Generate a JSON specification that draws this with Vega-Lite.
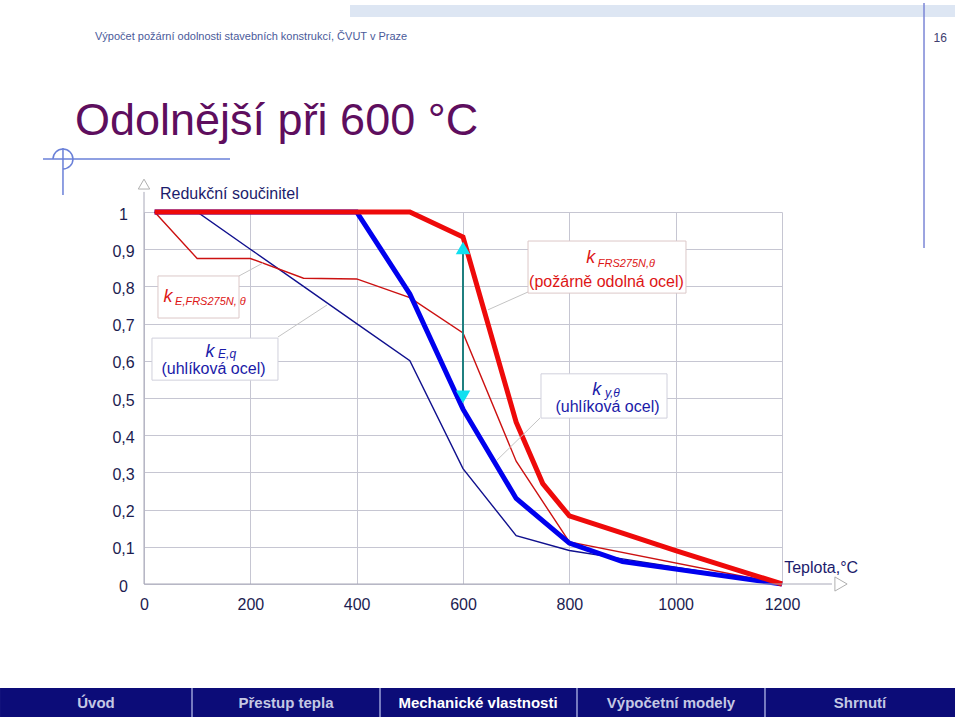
{
  "$schema": "https://vega.github.io/schema/vega-lite/v6.json",
  "width": 638,
  "height": 372,
  "autosize": {"type": "none"},
  "padding": {"left": 144, "top": 212, "right": 178, "bottom": 136},
  "background": "white",
  "config": {
    "view": {"stroke": null},
    "text": {"font": "Liberation Sans"},
    "axisX": {"grid": true, "gridColor": "#c6c6d2", "domain": false, "ticks": false, "labelFontSize": 16, "labelFont": "Liberation Sans", "labelColor": "#1c1c50", "labelPadding": 12, "labelFlush": false, "labelOverlap": false, "labelExpr": "format(datum.value, 'd')", "tickCount": 12},
    "axisY": {"grid": true, "gridColor": "#c6c6d2", "domain": false, "ticks": false, "labelFontSize": 16, "labelFont": "Liberation Sans", "labelColor": "#1c1c50", "labelAlign": "center", "labelPadding": 21, "labelOffset": 2, "labelOverlap": false, "labelExpr": "replace(format(datum.value, '~g'), '.', ',')", "tickCount": 11}
  },
  "data": {"values": [{}]},
  "datasets": {
    "curves": [
      {"series": "kE", "T": 20, "k": 1}, {"series": "kE", "T": 100, "k": 1}, {"series": "kE", "T": 200, "k": 0.9}, {"series": "kE", "T": 300, "k": 0.8}, {"series": "kE", "T": 400, "k": 0.7}, {"series": "kE", "T": 500, "k": 0.6}, {"series": "kE", "T": 600, "k": 0.31}, {"series": "kE", "T": 700, "k": 0.13}, {"series": "kE", "T": 800, "k": 0.09}, {"series": "kE", "T": 900, "k": 0.0675}, {"series": "kE", "T": 1000, "k": 0.045}, {"series": "kE", "T": 1100, "k": 0.0225}, {"series": "kE", "T": 1200, "k": 0},
      {"series": "kEFRS", "T": 20, "k": 1}, {"series": "kEFRS", "T": 100, "k": 0.875}, {"series": "kEFRS", "T": 200, "k": 0.875}, {"series": "kEFRS", "T": 300, "k": 0.822}, {"series": "kEFRS", "T": 400, "k": 0.82}, {"series": "kEFRS", "T": 500, "k": 0.77}, {"series": "kEFRS", "T": 600, "k": 0.675}, {"series": "kEFRS", "T": 700, "k": 0.33}, {"series": "kEFRS", "T": 800, "k": 0.113}, {"series": "kEFRS", "T": 1200, "k": 0},
      {"series": "ky", "T": 20, "k": 1}, {"series": "ky", "T": 400, "k": 1}, {"series": "ky", "T": 500, "k": 0.78}, {"series": "ky", "T": 600, "k": 0.47}, {"series": "ky", "T": 700, "k": 0.23}, {"series": "ky", "T": 800, "k": 0.11}, {"series": "ky", "T": 900, "k": 0.06}, {"series": "ky", "T": 1000, "k": 0.04}, {"series": "ky", "T": 1100, "k": 0.02}, {"series": "ky", "T": 1200, "k": 0},
      {"series": "kFRS", "T": 20, "k": 1}, {"series": "kFRS", "T": 500, "k": 1}, {"series": "kFRS", "T": 600, "k": 0.933}, {"series": "kFRS", "T": 700, "k": 0.435}, {"series": "kFRS", "T": 750, "k": 0.27}, {"series": "kFRS", "T": 800, "k": 0.183}, {"series": "kFRS", "T": 900, "k": 0.137}, {"series": "kFRS", "T": 1000, "k": 0.09}, {"series": "kFRS", "T": 1100, "k": 0.045}, {"series": "kFRS", "T": 1200, "k": 0}
    ]
  },
  "layer": [
    {
      "data": {"name": "curves"},
      "transform": [{"filter": "datum.series === 'kE'"}],
      "mark": {"type": "line", "color": "#10108e", "strokeWidth": 1.4},
      "encoding": {
        "x": {"field": "T", "type": "quantitative", "scale": {"domain": [0, 1200], "nice": false, "zero": false}, "axis": {"values": [0, 200, 400, 600, 800, 1000, 1200], "title": null}},
        "y": {"field": "k", "type": "quantitative", "scale": {"domain": [0, 1], "nice": false}, "axis": {"values": [0, 0.1, 0.2, 0.3, 0.4, 0.5, 0.6, 0.7, 0.8, 0.9, 1], "title": null}}
      }
    },
    {
      "data": {"name": "curves"},
      "transform": [{"filter": "datum.series === 'kEFRS'"}],
      "mark": {"type": "line", "color": "#cc1111", "strokeWidth": 1.4},
      "encoding": {"x": {"field": "T", "type": "quantitative", "axis": {"values": [0, 200, 400, 600, 800, 1000, 1200], "title": null}}, "y": {"field": "k", "type": "quantitative", "axis": {"values": [0, 0.1, 0.2, 0.3, 0.4, 0.5, 0.6, 0.7, 0.8, 0.9, 1], "title": null}}}
    },
    {
      "data": {"name": "curves"},
      "transform": [{"filter": "datum.series === 'ky'"}],
      "mark": {"type": "line", "color": "#0000ee", "strokeWidth": 5},
      "encoding": {"x": {"field": "T", "type": "quantitative", "axis": {"values": [0, 200, 400, 600, 800, 1000, 1200], "title": null}}, "y": {"field": "k", "type": "quantitative", "axis": {"values": [0, 0.1, 0.2, 0.3, 0.4, 0.5, 0.6, 0.7, 0.8, 0.9, 1], "title": null}}}
    },
    {
      "data": {"name": "curves"},
      "transform": [{"filter": "datum.series === 'kFRS'"}],
      "mark": {"type": "line", "color": "#ee0a0a", "strokeWidth": 5},
      "encoding": {"x": {"field": "T", "type": "quantitative", "axis": {"values": [0, 200, 400, 600, 800, 1000, 1200], "title": null}}, "y": {"field": "k", "type": "quantitative", "axis": {"values": [0, 0.1, 0.2, 0.3, 0.4, 0.5, 0.6, 0.7, 0.8, 0.9, 1], "title": null}}}
    },
    {"mark": {"type": "rule", "color": "#a8a8b8", "strokeWidth": 1}, "encoding": {"x": {"datum": 0}, "y": {"datum": 0}, "y2": {"datum": 1.054}}},
    {"mark": {"type": "rule", "color": "#a8a8b8", "strokeWidth": 1}, "encoding": {"x": {"datum": 0}, "x2": {"datum": 1294}, "y": {"datum": 0}}},
    {"mark": {"type": "point", "shape": "triangle-up", "size": 130, "filled": false, "stroke": "#b0b0b0", "fill": "white", "strokeWidth": 1, "opacity": 1}, "encoding": {"x": {"datum": 0}, "y": {"datum": 1.075}}},
    {"mark": {"type": "point", "shape": "triangle-right", "size": 200, "filled": false, "stroke": "#b0b0b0", "fill": "white", "strokeWidth": 1, "opacity": 1}, "encoding": {"x": {"datum": 1311}, "y": {"datum": 0}}},
    {"mark": {"type": "text", "text": "Redukční součinitel", "align": "left", "baseline": "alphabetic", "fontSize": 16, "color": "#1c1c6c"}, "encoding": {"x": {"datum": 30}, "y": {"datum": 1.034}}},
    {"mark": {"type": "text", "text": "Teplota,°C", "align": "left", "baseline": "alphabetic", "fontSize": 16, "color": "#1c1c6c"}, "encoding": {"x": {"datum": 1204}, "y": {"datum": 0.0296}}},
    {"mark": {"type": "rule", "color": "#1f7f7f", "strokeWidth": 2}, "encoding": {"x": {"datum": 600}, "y": {"datum": 0.9}, "y2": {"datum": 0.505}}},
    {"mark": {"type": "point", "shape": "triangle-up", "size": 210, "filled": true, "color": "#10e0f0", "opacity": 1}, "encoding": {"x": {"datum": 600}, "y": {"datum": 0.903}}},
    {"mark": {"type": "point", "shape": "triangle-down", "size": 210, "filled": true, "color": "#10e0f0", "opacity": 1}, "encoding": {"x": {"datum": 600}, "y": {"datum": 0.503}}},
    {"mark": {"type": "rule", "color": "#c4c4c4", "strokeWidth": 1}, "encoding": {"x": {"datum": 178.7}, "y": {"datum": 0.828}, "x2": {"datum": 223.8}, "y2": {"datum": 0.863}}},
    {"mark": {"type": "rule", "color": "#c4c4c4", "strokeWidth": 1}, "encoding": {"x": {"datum": 252}, "y": {"datum": 0.664}, "x2": {"datum": 344.2}, "y2": {"datum": 0.75}}},
    {"mark": {"type": "rule", "color": "#c4c4c4", "strokeWidth": 1}, "encoding": {"x": {"datum": 722.3}, "y": {"datum": 0.785}, "x2": {"datum": 647}, "y2": {"datum": 0.737}}},
    {"mark": {"type": "rule", "color": "#c4c4c4", "strokeWidth": 1}, "encoding": {"x": {"datum": 744.8}, "y": {"datum": 0.446}, "x2": {"datum": 664}, "y2": {"datum": 0.333}}},
    {"mark": {"type": "rect", "fill": "white", "stroke": "#dcc8c8", "strokeWidth": 1}, "encoding": {"x": {"datum": 26.3}, "x2": {"datum": 178.7}, "y": {"datum": 0.828}, "y2": {"datum": 0.715}}},
    {"mark": {"type": "rect", "fill": "white", "stroke": "#d0d0dc", "strokeWidth": 1}, "encoding": {"x": {"datum": 15}, "x2": {"datum": 252}, "y": {"datum": 0.661}, "y2": {"datum": 0.548}}},
    {"mark": {"type": "rect", "fill": "white", "stroke": "#dcc8c8", "strokeWidth": 1}, "encoding": {"x": {"datum": 722.3}, "x2": {"datum": 1019.4}, "y": {"datum": 0.922}, "y2": {"datum": 0.782}}},
    {"mark": {"type": "rect", "fill": "white", "stroke": "#d0d0dc", "strokeWidth": 1}, "encoding": {"x": {"datum": 746.7}, "x2": {"datum": 983.7}, "y": {"datum": 0.565}, "y2": {"datum": 0.446}}},
    {"mark": {"type": "text", "text": "k", "align": "left", "baseline": "alphabetic", "fontSize": 18, "fontStyle": "italic", "color": "#dd1515"}, "encoding": {"x": {"datum": 36.6}, "y": {"datum": 0.758}}},
    {"mark": {"type": "text", "text": "E,FRS275N, θ", "align": "left", "baseline": "alphabetic", "fontSize": 11, "fontStyle": "italic", "color": "#dd1515"}, "encoding": {"x": {"datum": 58.4}, "y": {"datum": 0.75}}},
    {"mark": {"type": "text", "text": "k", "align": "left", "baseline": "alphabetic", "fontSize": 18, "fontStyle": "italic", "color": "#1a1aa8"}, "encoding": {"x": {"datum": 115.6}, "y": {"datum": 0.611}}},
    {"mark": {"type": "text", "text": "E,q", "align": "left", "baseline": "alphabetic", "fontSize": 12, "fontStyle": "italic", "color": "#1a1aa8"}, "encoding": {"x": {"datum": 139.3}, "y": {"datum": 0.607}}},
    {"mark": {"type": "text", "text": "(uhlíková ocel)", "align": "center", "baseline": "alphabetic", "fontSize": 16, "color": "#1a1aa8"}, "encoding": {"x": {"datum": 130.7}, "y": {"datum": 0.5645}}},
    {"mark": {"type": "text", "text": "k", "align": "left", "baseline": "alphabetic", "fontSize": 18, "fontStyle": "italic", "color": "#dd1515"}, "encoding": {"x": {"datum": 831.6}, "y": {"datum": 0.862}}},
    {"mark": {"type": "text", "text": "FRS275N,θ", "align": "left", "baseline": "alphabetic", "fontSize": 11, "fontStyle": "italic", "color": "#dd1515"}, "encoding": {"x": {"datum": 853.4}, "y": {"datum": 0.851}}},
    {"mark": {"type": "text", "text": "(požárně odolná ocel)", "align": "center", "baseline": "alphabetic", "fontSize": 16, "color": "#dd1515"}, "encoding": {"x": {"datum": 869.9}, "y": {"datum": 0.799}}},
    {"mark": {"type": "text", "text": "k", "align": "left", "baseline": "alphabetic", "fontSize": 18, "fontStyle": "italic", "color": "#1a1aa8"}, "encoding": {"x": {"datum": 843.1}, "y": {"datum": 0.508}}},
    {"mark": {"type": "text", "text": "y,θ", "align": "left", "baseline": "alphabetic", "fontSize": 12, "fontStyle": "italic", "color": "#1a1aa8"}, "encoding": {"x": {"datum": 866.9}, "y": {"datum": 0.503}}},
    {"mark": {"type": "text", "text": "(uhlíková ocel)", "align": "center", "baseline": "alphabetic", "fontSize": 16, "color": "#1a1aa8"}, "encoding": {"x": {"datum": 871.8}, "y": {"datum": 0.462}}},
    {"mark": {"type": "rect", "fill": "#dde6f3"}, "encoding": {"x": {"datum": 387.5}, "x2": {"datum": 1525.4}, "y": {"datum": 1.5565}, "y2": {"datum": 1.5242}}},
    {"mark": {"type": "rule", "color": "#7b86d6", "strokeWidth": 1.5}, "encoding": {"x": {"datum": 1467.1}, "y": {"datum": 1.5618}, "y2": {"datum": 0.9032}}},
    {"mark": {"type": "text", "text": "Výpočet požární odolnosti stavebních konstrukcí, ČVUT v Praze", "align": "left", "baseline": "alphabetic", "fontSize": 11, "color": "#4a5a9a"}, "encoding": {"x": {"datum": -92.2}, "y": {"datum": 1.4637}}},
    {"mark": {"type": "text", "text": "16", "align": "right", "baseline": "alphabetic", "fontSize": 12, "color": "#404070"}, "encoding": {"x": {"datum": 1510.3}, "y": {"datum": 1.4583}}},
    {"mark": {"type": "text", "text": "Odolnější při 600 °C", "align": "left", "baseline": "alphabetic", "fontSize": 45, "color": "#5e0e5e"}, "encoding": {"x": {"datum": -129.8}, "y": {"datum": 1.207}}},
    {"mark": {"type": "rule", "color": "#6a80d8", "strokeWidth": 1.5}, "encoding": {"x": {"datum": -190}, "x2": {"datum": 161.8}, "y": {"datum": 1.1425}}},
    {"mark": {"type": "rule", "color": "#6a80d8", "strokeWidth": 1.5}, "encoding": {"x": {"datum": -152.4}, "y": {"datum": 1.172}, "y2": {"datum": 1.0457}}},
    {"mark": {"type": "arc", "radius": 10, "radius2": 10, "theta": -1.5708, "theta2": 3.1416, "fill": null, "stroke": "#6a80d8", "strokeWidth": 1.5}, "encoding": {"x": {"datum": -152.4}, "y": {"datum": 1.1425}}},
    {"mark": {"type": "rect", "fill": "#0c0c78"}, "encoding": {"x": {"datum": -270.8}, "x2": {"datum": 1525.4}, "y": {"datum": -0.2796}, "y2": {"datum": -0.3575}}},
    {"mark": {"type": "rule", "color": "#9aa0d8", "strokeWidth": 1.5}, "encoding": {"x": {"datum": 90.3}, "y": {"datum": -0.2796}, "y2": {"datum": -0.3575}}},
    {"mark": {"type": "rule", "color": "#9aa0d8", "strokeWidth": 1.5}, "encoding": {"x": {"datum": 443.9}, "y": {"datum": -0.2796}, "y2": {"datum": -0.3575}}},
    {"mark": {"type": "rule", "color": "#9aa0d8", "strokeWidth": 1.5}, "encoding": {"x": {"datum": 814.4}, "y": {"datum": -0.2796}, "y2": {"datum": -0.3575}}},
    {"mark": {"type": "rule", "color": "#9aa0d8", "strokeWidth": 1.5}, "encoding": {"x": {"datum": 1168}, "y": {"datum": -0.2796}, "y2": {"datum": -0.3575}}},
    {"mark": {"type": "text", "text": "Úvod", "align": "center", "baseline": "middle", "fontSize": 15, "fontWeight": "bold", "color": "#c4c8e4"}, "encoding": {"x": {"datum": -90.3}, "y": {"datum": -0.3199}}},
    {"mark": {"type": "text", "text": "Přestup tepla", "align": "center", "baseline": "middle", "fontSize": 15, "fontWeight": "bold", "color": "#c4c8e4"}, "encoding": {"x": {"datum": 267.1}, "y": {"datum": -0.3199}}},
    {"mark": {"type": "text", "text": "Mechanické vlastnosti", "align": "center", "baseline": "middle", "fontSize": 15, "fontWeight": "bold", "color": "#ffffff"}, "encoding": {"x": {"datum": 628.2}, "y": {"datum": -0.3199}}},
    {"mark": {"type": "text", "text": "Výpočetní modely", "align": "center", "baseline": "middle", "fontSize": 15, "fontWeight": "bold", "color": "#c4c8e4"}, "encoding": {"x": {"datum": 991.2}, "y": {"datum": -0.3199}}},
    {"mark": {"type": "text", "text": "Shrnutí", "align": "center", "baseline": "middle", "fontSize": 15, "fontWeight": "bold", "color": "#c4c8e4"}, "encoding": {"x": {"datum": 1346.7}, "y": {"datum": -0.3199}}}
  ]
}
